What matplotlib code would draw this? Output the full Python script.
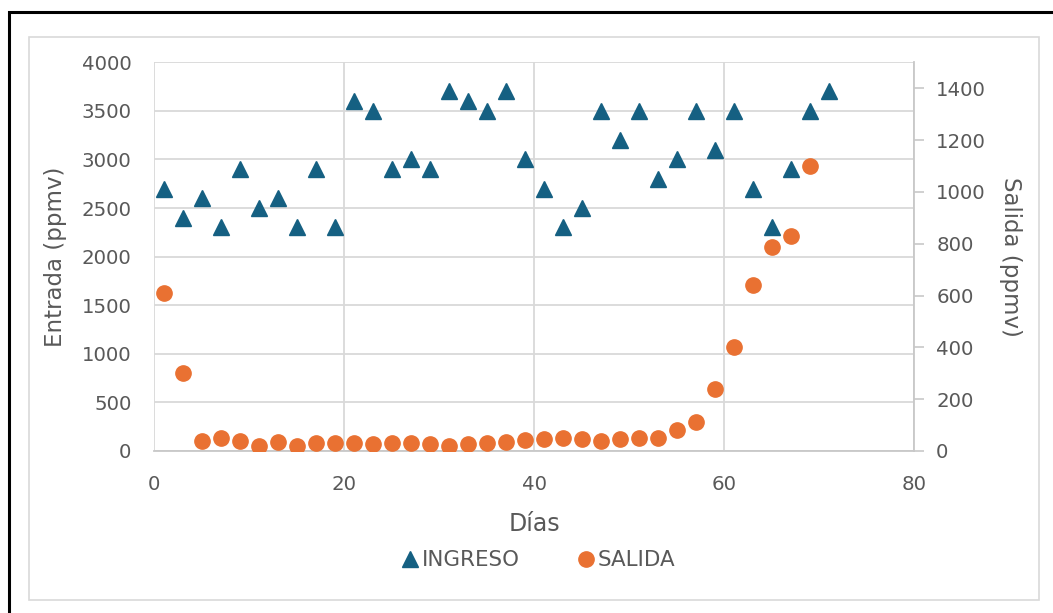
import matplotlib
matplotlib.use("Agg")
import matplotlib.pyplot as plt
from matplotlib.patches import Rectangle
from matplotlib.lines import Line2D

plt.rcParams['font.family'] = ['DejaVu Sans']

# datos
dias_ingreso = [1, 3, 5, 7, 9, 11, 13, 15, 17, 19, 21, 23, 25, 27, 29, 31, 33, 35,
                37, 39, 41, 43, 45, 47, 49, 51, 53, 55, 57, 59, 61, 63, 65, 67, 69, 71]
ingreso = [2700, 2400, 2600, 2300, 2900, 2500, 2600, 2300, 2900, 2300, 3600, 3500,
           2900, 3000, 2900, 3700, 3600, 3500, 3700, 3000, 2700, 2300, 2500, 3500,
           3200, 3500, 2800, 3000, 3500, 3100, 3500, 2700, 2300, 2900, 3500, 3700]
dias_salida = [1, 3, 5, 7, 9, 11, 13, 15, 17, 19, 21, 23, 25, 27, 29, 31, 33, 35,
               37, 39, 41, 43, 45, 47, 49, 51, 53, 55, 57, 59, 61, 63, 65, 67, 69]
salida = [608, 300, 40, 51, 38, 20, 34, 20, 32, 30, 32, 26, 30, 30, 26, 21, 28, 30,
          35, 41, 46, 51, 46, 40, 46, 51, 51, 81, 111, 240, 402, 640, 788, 829, 1100]

azul = '#156082'
naranja = '#E97132'
gris_txt = '#595959'
gris_grid = '#d9d9d9'

W, H = 1053, 613
fig = plt.figure(figsize=(W / 100, H / 100), dpi=100)

# marcos
fig.patches.append(Rectangle((9 / W, -0.05), 1.2, 1 - 11.7 / H + 0.05, transform=fig.transFigure,
                             fill=False, ec='black', lw=2.2))
fig.patches.append(Rectangle((29 / W, 1 - 600 / H), (1039 - 29) / W, (600 - 37) / H,
                             transform=fig.transFigure, fill=False, ec=gris_grid, lw=1.2))

x0, x1, y0, y1 = 154.3, 914, 62.3, 451
ax = fig.add_axes([x0 / W, 1 - y1 / H, (x1 - x0) / W, (y1 - y0) / H])
ax2 = ax.twinx()

ax.set_xlim(0, 80)
ax.set_ylim(0, 4000)
ax.set_xticks(range(0, 81, 20))
ax.set_yticks(range(0, 4001, 500))
ax2.set_ylim(0, 1500)
ax2.set_yticks(range(0, 1401, 200))

ax.grid(True, color=gris_grid, lw=1.3)
ax.set_axisbelow(True)
for a in (ax, ax2):
    for s in a.spines.values():
        s.set_visible(False)
ax2.spines['right'].set_visible(True)
ax2.spines['right'].set_color('#c8c8c8')
ax2.spines['right'].set_linewidth(1.3)
ax.spines['bottom'].set_visible(True)
ax.spines['bottom'].set_color('#c8c8c8')
ax.spines['bottom'].set_linewidth(1.3)

ax.tick_params(axis='both', length=0, labelsize=14.2, labelcolor=gris_txt)
ax.tick_params(axis='x', pad=17)
ax.tick_params(axis='y', pad=16.5)
ax2.tick_params(axis='y', length=7, width=1.2, color='#c8c8c8', labelsize=14.2,
                labelcolor=gris_txt, pad=9)

ax.plot(dias_ingreso, ingreso, linestyle='none', marker='^', ms=11, color=azul, zorder=3)
ax2.plot(dias_salida, salida, linestyle='none', marker='o', ms=11, color=naranja, zorder=3)

ax.set_ylabel('Entrada (ppmv)', fontsize=16.5, color=gris_txt, labelpad=10)
ax2.set_ylabel('Salida (ppmv)', fontsize=16.5, color=gris_txt, rotation=270, labelpad=26)
ax.set_xlabel('Días', fontsize=17, color=gris_txt, labelpad=13.5)

handles = [Line2D([], [], linestyle='none', marker='^', ms=11, color=azul),
           Line2D([], [], linestyle='none', marker='o', ms=11, color=naranja)]
fig.legend(handles, ['INGRESO', 'SALIDA'], loc='center', bbox_to_anchor=(537 / W, 1 - 560 / H),
           ncol=2, frameon=False, fontsize=15.4, handletextpad=0.05, columnspacing=2.6,
           handlelength=1.0, labelcolor=gris_txt)

fig.savefig('out.png', dpi=100)
